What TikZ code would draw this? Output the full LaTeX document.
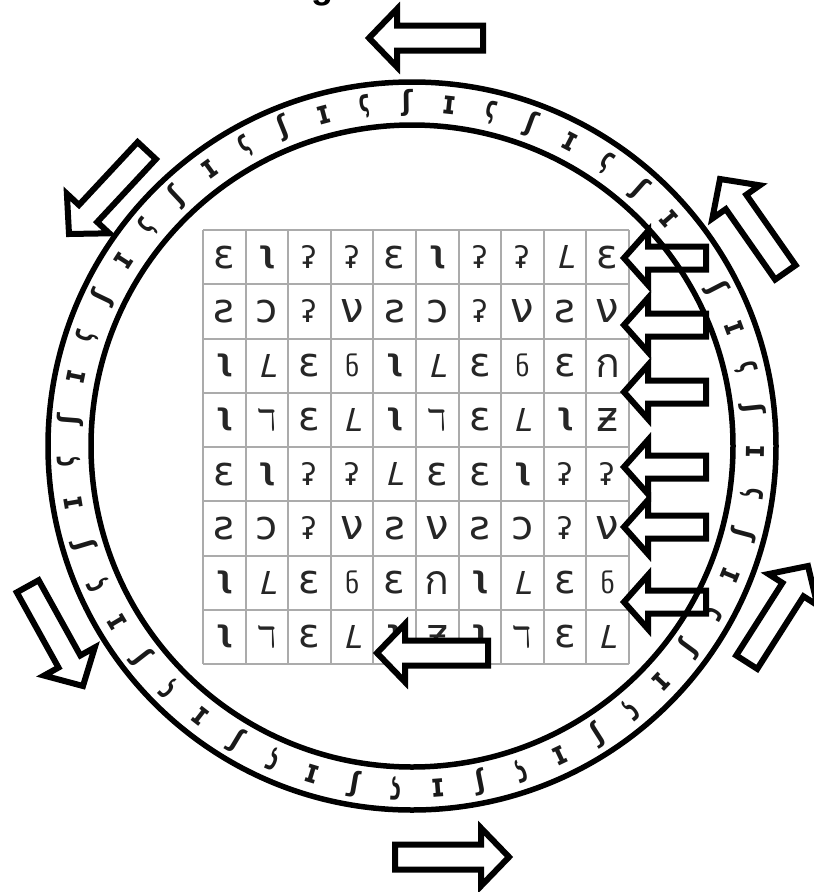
\documentclass[tikz,border=0pt]{standalone}
\usepackage{fontspec}
\usepackage{graphicx}
\setmainfont{DejaVu Sans}
\newfontfamily\thaifont[Script=Thai]{Loma}
\newfontfamily\titlefont{Liberation Sans}
\newfontfamily\dvslant[FakeSlant=0.25]{DejaVu Sans}
\newcommand\cellglyph[1]{\resizebox*{!}{23pt}{#1}}
\newcommand\ringesh{\resizebox{11pt}{21pt}{\bfseries ʃ}}
\newcommand\ringi{\resizebox{14pt}{18pt}{\bfseries ɪ}}
\newcommand\ringst{\resizebox{11pt}{17pt}{\bfseries ϛ}}
\newcommand\gE{ɛ}
\newcommand\gEp{ε}
\newcommand\gH{{\bfseries ʅ}}
\newcommand\gS{ℸ}
\newcommand\gQ{ʡ}
\newcommand\gL{{\dvslant L}}
\newcommand\gR{ƨ}
\newcommand\gC{ɔ}
\newcommand\gV{ν}
\newcommand\gB{ნ}
\newcommand\gK{{\thaifont ก}}
\newcommand\gZ{ƶ}
\tikzset{
  gridline/.style={draw=black!33, line width=2pt},
  cellnode/.style={inner sep=0pt, text=black!85},
  ringnode/.style={inner sep=0pt, text=black!90},
  ringline/.style={draw=black, line width=5.5pt, circle, inner sep=0pt},
  arrowline/.style={draw=black, line width=6pt, fill=white, line join=miter},
  pics/barrow/.style args={#1/#2/#3/#4}{code={
    \draw[arrowline] (0,0) -- (#2,#3) -- (#2,#4) -- (#1,#4) -- (#1,-#4) -- (#2,-#4) -- (#2,-#3) -- cycle;
  }}
}
\begin{document}
\begin{tikzpicture}[x=1pt,y=-1pt]
\useasboundingbox (0,0) rectangle (814,892);
% cropped title
\node[anchor=base, inner sep=0pt] (title) at (322,-2) {\titlefont\bfseries\fontsize{36}{36}\selectfont g};
% grid
\foreach \i in {0,...,10} \draw[gridline] ({203+42.6*\i},230) -- ({203+42.6*\i},664);
\foreach \j in {0,...,8} \draw[gridline] (203,{230+54.25*\j}) -- (629,{230+54.25*\j});
\foreach \row [count=\j] in {
  {\gE,\gH,\gQ,\gQ,\gE,\gH,\gQ,\gQ,\gL,\gEp},
  {\gR,\gC,\gQ,\gV,\gR,\gC,\gQ,\gV,\gR,\gV},
  {\gH,\gL,\gE,\gB,\gH,\gL,\gE,\gB,\gE,\gK},
  {\gH,\gS,\gE,\gL,\gH,\gS,\gE,\gL,\gH,\gZ},
  {\gE,\gH,\gQ,\gQ,\gL,\gEp,\gE,\gH,\gQ,\gQ},
  {\gR,\gC,\gQ,\gV,\gR,\gV,\gR,\gC,\gQ,\gV},
  {\gH,\gL,\gE,\gB,\gE,\gK,\gH,\gL,\gE,\gB},
  {\gH,\gS,\gE,\gL,\gH,\gZ,\gH,\gS,\gE,\gL}}{
  \foreach \g [count=\i] in \row {
    \node[cellnode] (c\j-\i) at ({203+42.6*(\i-0.5)},{230+54.25*(\j-0.5)}) {\cellglyph{\g}};
  }
}
% ring glyphs
\foreach \k in {0,...,50}{
  \pgfmathsetmacro\a{90.8-\k*7.0588}
  \pgfmathtruncatemacro\m{mod(\k,3)}
  \node[ringnode, rotate=\a-90] (r\k) at ({412+343*cos(\a)},{446-343*sin(\a)})
    {\ifcase\m \ringesh\or \ringi\or \ringst\fi};
}
% outer arrows
\pic (atop) [rotate=0] at (369,38) {barrow=114/28/29/12.5};
\pic (aul) [rotate=47] at (69,234) {barrow=114/28/29/12.5};
\pic (aur) [rotate=-55] at (720,179) {barrow=114/28/29/12.5};
\pic (all) [rotate=119] at (83,686) {barrow=114/28/29/12.5};
\pic (alr) [rotate=-122.5] at (808,566) {barrow=114/28/29/12.5};
\pic (abot) [rotate=180] at (509,857) {barrow=114/28/29/12.5};
\pic (amid) [rotate=0] at (377,653) {barrow=111/28/29/12.5};
% right column arrows
\foreach \y [count=\n] in {258,325,392,467,527,602}
  \pic (ar\n) at (624,\y) {barrow=82/24/27/11.5};
% rings
\node[ringline, minimum size=728pt] (outerring) at (412,446) {};
\node[ringline, minimum size=642pt] (innerring) at (412,446) {};
\end{tikzpicture}
\end{document}
